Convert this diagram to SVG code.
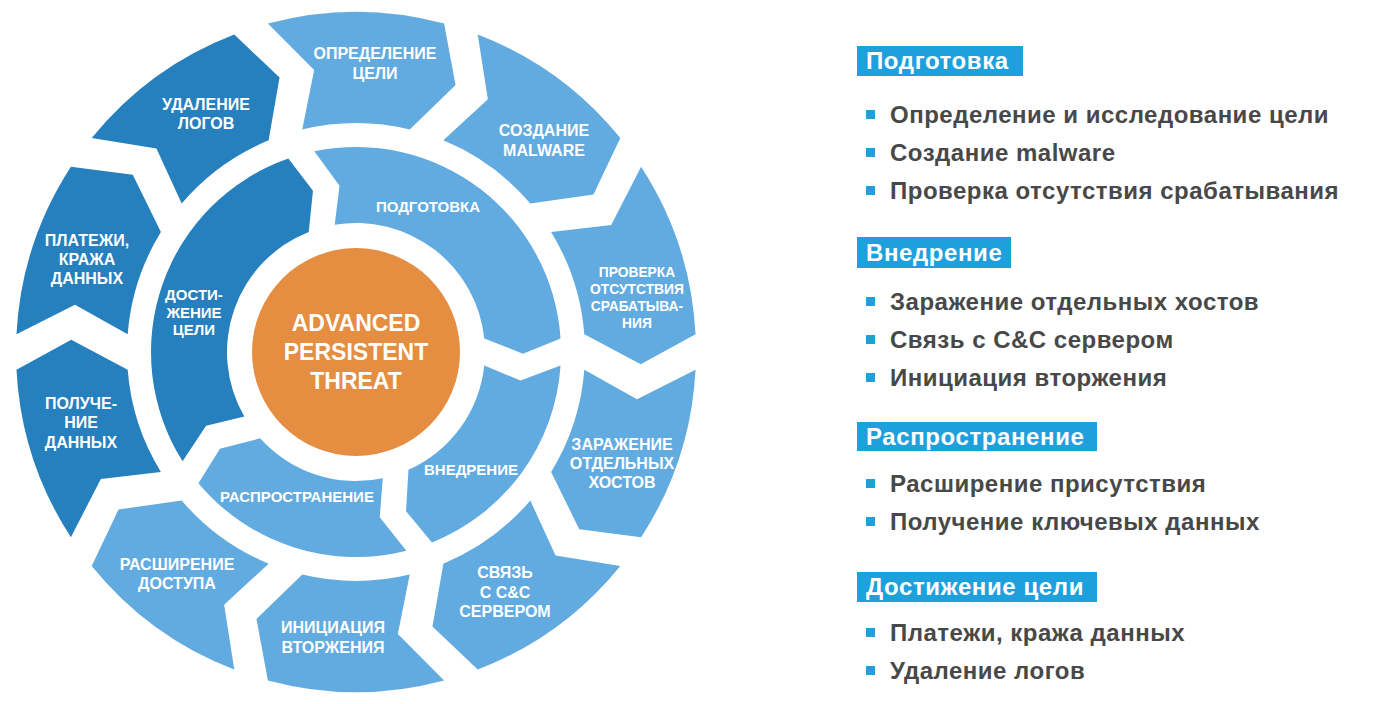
<svg xmlns="http://www.w3.org/2000/svg" xmlns:xlink="http://www.w3.org/1999/xlink" width="1375" height="704" viewBox="0 0 1375 704">
<style>
.light{fill:#62abe1}
.dark{fill:#2680be}
.orange{fill:#e58d40}
.wt{font-family:"Liberation Sans",Arial,sans-serif;font-weight:bold;fill:#ffffff;text-anchor:middle}
.o{font-size:16px}
.sm{font-size:13.8px}
.in{font-size:15px}
.ctr{font-size:23px}
.hbox{fill:#1ea0dc}
.ht{font-family:"Liberation Sans",Arial,sans-serif;font-weight:bold;font-size:24px;letter-spacing:0.6px;fill:#ffffff}
.bt{font-family:"Liberation Sans",Arial,sans-serif;font-weight:bold;font-size:24px;letter-spacing:0.5px;fill:#484848}
.bl{fill:#1ea0dc}
</style>
<defs>
<path id="seg36" d="M339.54 17.69 A340 340 0 0 1 285.09 185.26 L223.22 177.19 L195.11 119.89 A229 229 0 0 0 228.32 17.68 L281.04 47.32 Z"/>
<path id="in72" d="M204.56 13.49 A205 205 0 0 1 76.04 190.38 L50.03 159.33 L52.46 117.85 A129 129 0 0 0 128.29 13.48 L164.55 28.52 Z"/>
<path id="in105" d="M204.56 13.49 A205 205 0 0 1 -41.67 200.72 L-46.22 160.48 L-21.30 127.23 A129 129 0 0 0 128.29 13.48 L164.55 28.52 Z"/>
<path id="in110" d="M204.56 13.49 A205 205 0 0 1 -59.00 196.33 L-60.03 155.84 L-32.31 124.89 A129 129 0 0 0 128.29 13.48 L164.55 28.52 Z"/>
</defs>
<rect width="1375" height="704" fill="#ffffff"/>
<g id="connectors"/>
<g id="outer-opredelenie"><use xlink:href="#seg36" class="light" transform="translate(356 352) rotate(-108)"/><text class="wt o" x="375" y="59">ОПРЕДЕЛЕНИЕ</text><text class="wt o" x="375" y="79">ЦЕЛИ</text></g>
<g id="outer-sozdanie"><use xlink:href="#seg36" class="light" transform="translate(356 352) rotate(-72)"/><text class="wt o" x="544" y="136">СОЗДАНИЕ</text><text class="wt o" x="544" y="156">MALWARE</text></g>
<g id="outer-proverka"><use xlink:href="#seg36" class="light" transform="translate(356 352) rotate(-36)"/><text class="wt sm" x="637" y="277">ПРОВЕРКА</text><text class="wt sm" x="637" y="294">ОТСУТСТВИЯ</text><text class="wt sm" x="637" y="311">СРАБАТЫВА-</text><text class="wt sm" x="637" y="328">НИЯ</text></g>
<g id="outer-zarazhenie"><use xlink:href="#seg36" class="light" transform="translate(356 352) rotate(0)"/><text class="wt o" x="622" y="450">ЗАРАЖЕНИЕ</text><text class="wt o" x="622" y="469">ОТДЕЛЬНЫХ</text><text class="wt o" x="622" y="488">ХОСТОВ</text></g>
<g id="outer-svyaz"><use xlink:href="#seg36" class="light" transform="translate(356 352) rotate(36)"/><text class="wt o" x="505" y="578">СВЯЗЬ</text><text class="wt o" x="505" y="598">С C&amp;C</text><text class="wt o" x="505" y="617">СЕРВЕРОМ</text></g>
<g id="outer-iniciaciya"><use xlink:href="#seg36" class="light" transform="translate(356 352) rotate(72)"/><text class="wt o" x="333" y="633">ИНИЦИАЦИЯ</text><text class="wt o" x="333" y="653">ВТОРЖЕНИЯ</text></g>
<g id="outer-rasshirenie"><use xlink:href="#seg36" class="light" transform="translate(356 352) rotate(108)"/><text class="wt o" x="177" y="570">РАСШИРЕНИЕ</text><text class="wt o" x="177" y="589">ДОСТУПА</text></g>
<g id="outer-poluchenie"><use xlink:href="#seg36" class="dark" transform="translate(356 352) rotate(144)"/><text class="wt o" x="81" y="409">ПОЛУЧЕ-</text><text class="wt o" x="81" y="428">НИЕ</text><text class="wt o" x="81" y="448">ДАННЫХ</text></g>
<g id="outer-platezhi"><use xlink:href="#seg36" class="dark" transform="translate(356 352) rotate(180)"/><text class="wt o" x="87" y="246">ПЛАТЕЖИ,</text><text class="wt o" x="87" y="265">КРАЖА</text><text class="wt o" x="87" y="284">ДАННЫХ</text></g>
<g id="outer-udalenie"><use xlink:href="#seg36" class="dark" transform="translate(356 352) rotate(216)"/><text class="wt o" x="206" y="110">УДАЛЕНИЕ</text><text class="wt o" x="206" y="129">ЛОГОВ</text></g>
<g id="inner-podgotovka"><use xlink:href="#in105" class="light" transform="translate(356 352) rotate(-105.5)"/><text class="wt in" x="428" y="212">ПОДГОТОВКА</text></g>
<g id="inner-vnedrenie"><use xlink:href="#in72" class="light" transform="translate(356 352) rotate(0)"/><text class="wt in" x="471" y="475">ВНЕДРЕНИЕ</text></g>
<g id="inner-rasprostranenie"><use xlink:href="#in72" class="light" transform="translate(356 352) rotate(72)"/><text class="wt in" x="297" y="502">РАСПРОСТРАНЕНИЕ</text></g>
<g id="inner-dostizhenie"><use xlink:href="#in110" class="dark" transform="translate(356 352) rotate(144)"/><text class="wt in" x="194" y="300">ДОСТИ-</text><text class="wt in" x="194" y="318">ЖЕНИЕ</text><text class="wt in" x="194" y="335">ЦЕЛИ</text></g>
<g id="center-apt"><circle cx="356" cy="352" r="104" class="orange"/><text class="wt ctr" x="356" y="331">ADVANCED</text><text class="wt ctr" x="356" y="360">PERSISTENT</text><text class="wt ctr" x="356" y="389">THREAT</text></g>
<g id="legend-podgotovka"><rect class="hbox" x="857" y="46" width="166" height="30"/><text class="ht" x="866" y="69">Подготовка</text>
<rect class="bl" x="866" y="110" width="9" height="9"/><text class="bt" x="890" y="123">Определение и исследование цели</text>
<rect class="bl" x="866" y="148" width="9" height="9"/><text class="bt" x="890" y="161">Создание malware</text>
<rect class="bl" x="866" y="186" width="9" height="9"/><text class="bt" x="890" y="199">Проверка отсутствия срабатывания</text></g>
<g id="legend-vnedrenie"><rect class="hbox" x="857" y="237" width="154" height="31"/><text class="ht" x="866" y="261">Внедрение</text>
<rect class="bl" x="866" y="297" width="9" height="9"/><text class="bt" x="890" y="310">Заражение отдельных хостов</text>
<rect class="bl" x="866" y="335" width="9" height="9"/><text class="bt" x="890" y="348">Связь с C&amp;C сервером</text>
<rect class="bl" x="866" y="373" width="9" height="9"/><text class="bt" x="890" y="386">Инициация вторжения</text></g>
<g id="legend-rasprostranenie"><rect class="hbox" x="857" y="422" width="240" height="29"/><text class="ht" x="866" y="445">Распространение</text>
<rect class="bl" x="866" y="479" width="9" height="9"/><text class="bt" x="890" y="492">Расширение присутствия</text>
<rect class="bl" x="866" y="517" width="9" height="9"/><text class="bt" x="890" y="530">Получение ключевых данных</text></g>
<g id="legend-dostizhenie"><rect class="hbox" x="857" y="572" width="240" height="30"/><text class="ht" x="866" y="595">Достижение цели</text>
<rect class="bl" x="866" y="628" width="9" height="9"/><text class="bt" x="890" y="641">Платежи, кража данных</text>
<rect class="bl" x="866" y="666" width="9" height="9"/><text class="bt" x="890" y="679">Удаление логов</text></g>
</svg>
